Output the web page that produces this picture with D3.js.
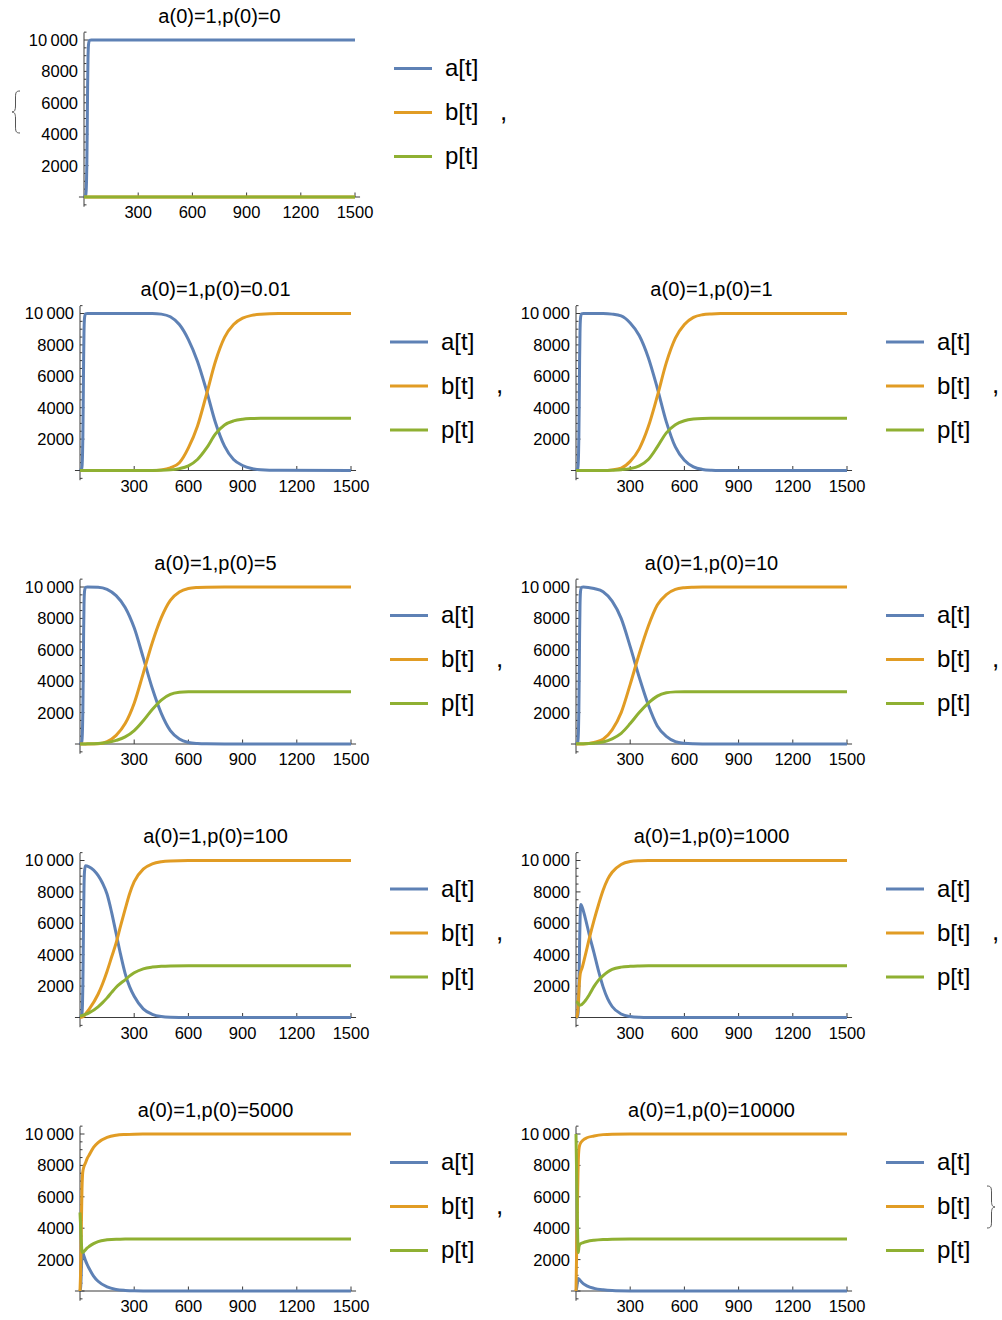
<!DOCTYPE html>
<html><head><meta charset="utf-8">
<script src="https://cdn.jsdelivr.net/npm/d3@7"></script>
<style>body{margin:0;background:#fff} svg{display:block}</style>
</head><body><svg id="c" width="1002" height="1320"></svg>
<script>
// ---------- data ----------
const titles = ["a(0)=1,p(0)=0","a(0)=1,p(0)=0.01","a(0)=1,p(0)=1","a(0)=1,p(0)=5","a(0)=1,p(0)=10",
                "a(0)=1,p(0)=100","a(0)=1,p(0)=1000","a(0)=1,p(0)=5000","a(0)=1,p(0)=10000"];
const seriesNames = ["a[t]","b[t]","p[t]"];
const xTickValues = [300,600,900,1200,1500];
const yTickValues = [2000,4000,6000,8000,10000];
const yTickLabels = ["2000","4000","6000","8000","10\u2009000"];

// p(0)=0
const t_0 = [0,10,14,16,18,20,22,25,30,40,1500];
const a_0 = [1,150,1000,2300,4500,7000,8700,9700,9980,10000,10000];
const b_0 = [0,0,0,0,0,0,0,0,0,0,0];
const p_0 = [0,0,0,0,0,0,0,0,0,0,0];
// p(0)=0.01
const t_1 = [0,10,14,16,18,20,22,25,30,40,400,450,500,550,600,650,700,750,800,850,900,950,1000,1100,1500];
const a_1 = [1,150,1000,2300,4500,7000,8700,9700,9980,10000,10000,9960,9790,9300,8340,6960,5100,3040,1550,700,320,130,50,8,0];
const b_1 = [0,0,0,0,0,0,0,0,0,0,0,40,170,490,1440,2820,4840,6960,8480,9300,9700,9880,9950,9995,10000];
const p_1 = [0,0,0,0,0,0,0,0,0,0,2,10,40,120,300,700,1420,2330,2900,3160,3270,3310,3325,3333,3333];
// p(0)=1
const t_2 = [0,10,14,16,18,20,22,25,30,40,150,200,250,300,350,400,450,500,550,600,650,700,750,800,900,1500];
const a_2 = [1,150,1000,2300,4500,7000,8700,9700,9980,10000,9995,9960,9850,9400,8600,7200,5250,3100,1500,650,230,70,20,5,0,0];
const b_2 = [0,0,0,0,0,0,0,0,0,0,5,40,150,580,1380,2780,4730,6870,8430,9300,9750,9920,9975,9995,10000,10000];
const p_2 = [1,1,1,1,1,1,1,1,1,1,5,20,50,120,300,700,1500,2400,2920,3170,3280,3320,3330,3333,3333,3333];
// p(0)=5
const t_3 = [0,10,14,16,18,20,22,25,30,40,100,150,200,250,300,350,400,450,500,550,600,650,700,800,1500];
const a_3 = [1,150,1000,2300,4500,7000,8700,9700,9980,10000,9990,9850,9450,8700,7400,5500,3550,1950,850,320,100,30,8,0,0];
const b_3 = [0,0,0,0,0,0,0,0,0,0,10,150,550,1300,2600,4500,6450,8050,9150,9680,9900,9970,9992,10000,10000];
const p_3 = [5,5,5,5,5,5,5,5,6,8,30,90,230,450,850,1480,2200,2800,3160,3290,3325,3333,3333,3333,3333];
// p(0)=10
const t_4 = [0,10,14,16,18,20,22,25,30,40,100,150,200,250,300,350,400,450,500,550,600,650,700,800,1500];
const a_4 = [1,150,1000,2300,4500,7000,8700,9700,9980,10000,9900,9700,9100,8000,6200,4250,2500,1150,480,150,45,12,3,0,0];
const b_4 = [0,0,0,0,0,0,0,0,0,2,100,300,900,2000,3800,5750,7500,8850,9520,9850,9955,9988,10000,10000,10000];
const p_4 = [10,10,10,10,10,10,10,10,11,13,50,130,330,680,1300,2000,2600,3050,3260,3320,3333,3333,3333,3333,3333];
// p(0)=100
const t_5 = [0,10,14,16,18,20,22,25,30,50,100,125,150,175,200,225,250,275,300,350,400,450,500,600,1500];
const a_5 = [1,150,950,2200,4300,6600,8200,9300,9670,9600,9050,8550,7850,6700,5350,4000,2800,1950,1350,550,200,60,20,3,0];
const b_5 = [0,20,40,55,70,85,100,130,220,520,1480,2150,2950,3850,4750,5850,6900,7900,8650,9450,9780,9920,9970,9995,10000];
const p_5 = [100,120,135,142,150,160,168,180,200,300,680,950,1250,1600,1930,2180,2400,2650,2850,3100,3210,3260,3280,3290,3290];
// p(0)=1000
const t_6 = [0,5,10,14,17,20,23,27,32,50,75,100,125,150,175,200,250,300,350,400,1500];
const a_6 = [1,12,150,900,2500,4800,6500,7200,7100,6400,5200,4100,2950,1950,1200,700,220,60,15,3,0];
const b_6 = [0,60,400,1200,1900,2400,2750,2950,3100,3900,5100,6200,7200,8100,8800,9250,9750,9930,9980,9995,10000];
const p_6 = [1000,980,920,850,800,780,780,800,830,1050,1480,1980,2380,2670,2900,3060,3210,3260,3280,3290,3290];
// p(0)=5000
const t_7 = [0,4,8,11,14,17,20,30,40,50,75,100,150,200,250,300,400,1500];
const a_7 = [1,300,1500,2400,2500,2400,2300,1950,1680,1450,950,620,260,100,38,12,1,0];
const b_7 = [0,1500,4500,6500,7400,7700,7850,8150,8450,8650,9150,9450,9780,9920,9970,9990,10000,10000];
const p_7 = [5000,4000,3000,2500,2450,2480,2500,2620,2740,2830,3020,3150,3260,3300,3305,3310,3310,3310];
// p(0)=10000
const t_8 = [0,4,8,11,13,16,22,40,60,100,150,200,300,400,1500];
const a_8 = [1,200,550,760,790,760,680,470,330,170,75,30,5,0,0];
const b_8 = [0,2800,5500,7500,8400,9000,9350,9620,9760,9870,9960,9990,10000,10000,10000];
const p_8 = [10000,7000,4200,2700,2450,2800,2990,3080,3150,3230,3280,3300,3310,3310,3310];

const panelT = [t_0,t_1,t_2,t_3,t_4,t_5,t_6,t_7,t_8];
const panelA = [a_0,a_1,a_2,a_3,a_4,a_5,a_6,a_7,a_8];
const panelB = [b_0,b_1,b_2,b_3,b_4,b_5,b_6,b_7,b_8];
const panelP = [p_0,p_1,p_2,p_3,p_4,p_5,p_6,p_7,p_8];

// ---------- styles ----------
const colors = ["#5E81B5","#E19C24","#8FB032"];
const FONT = "'Liberation Sans', Arial, Helvetica, sans-serif";
const svg = d3.select("#c");

const plotW = 271, plotH = 157, rowStep = 273.5;

function panelPos(i){
  if(i===0) return {x0:84, yTop:40};
  const row = Math.ceil(i/2), col = (i-1)%2;
  return {x0: col===0 ? 80 : 576, yTop: 40 + rowStep*row};
}

for(let i=0;i<9;i++){
  const {x0,yTop} = panelPos(i);
  const yBase = yTop + plotH;
  const x = d3.scaleLinear().domain([0,1500]).range([x0, x0+plotW]);
  const y = d3.scaleLinear().domain([0,10000]).range([yBase, yTop]);
  const g = svg.append("g");

  // title
  g.append("text").attr("x",(x0 + x0+plotW)/2).attr("y",yTop-17.5)
    .attr("text-anchor","middle").attr("font-family",FONT).attr("font-size",20).attr("fill","#000")
    .text(titles[i]);

  // axes lines
  const axisColor = "#3a3a3a";
  g.append("line").attr("x1",x(-28)).attr("x2",x(1528)).attr("y1",yBase).attr("y2",yBase)
    .attr("stroke",axisColor).attr("stroke-width",1);
  g.append("line").attr("x1",x0).attr("x2",x0).attr("y1",y(-620)).attr("y2",y(10480))
    .attr("stroke",axisColor).attr("stroke-width",1);

  // y ticks
  const yMinor = d3.range(-500,10501,500).filter(v=>v%2000!==0);
  g.selectAll(null).data(yMinor).join("line")
    .attr("x1",x0).attr("x2",x0+2.5).attr("y1",d=>y(d)).attr("y2",d=>y(d))
    .attr("stroke",axisColor).attr("stroke-width",1);
  g.selectAll(null).data([0].concat(yTickValues)).join("line")
    .attr("x1",x0).attr("x2",x0+4.5).attr("y1",d=>y(d)).attr("y2",d=>y(d))
    .attr("stroke",axisColor).attr("stroke-width",1);
  g.selectAll(null).data(yTickValues).join("text")
    .attr("x",x0-6).attr("y",d=>y(d)+5.9).attr("text-anchor","end")
    .attr("font-family",FONT).attr("font-size",16.5).attr("fill","#000")
    .text((d,k)=>yTickLabels[k]);

  // x ticks
  g.selectAll(null).data(xTickValues).join("line")
    .attr("x1",d=>x(d)).attr("x2",d=>x(d)).attr("y1",yBase).attr("y2",yBase-4.5)
    .attr("stroke",axisColor).attr("stroke-width",1);
  g.selectAll(null).data(xTickValues).join("text")
    .attr("x",d=>x(d)).attr("y",yBase+21).attr("text-anchor","middle")
    .attr("font-family",FONT).attr("font-size",16.5).attr("fill","#000")
    .text(d=>String(d));

  // curves
  const tt = panelT[i];
  const series = [panelA[i], panelB[i], panelP[i]];
  const line = d3.line().x(d=>x(d[0])).y(d=>y(d[1])).curve(d3.curveMonotoneX);
  series.forEach((vals,k)=>{
    const pts = tt.map((t,j)=>[t, vals[j]]);
    g.append("path").attr("d",line(pts)).attr("fill","none")
      .attr("stroke",colors[k]).attr("stroke-width",3)
      .attr("stroke-linejoin","round").attr("stroke-linecap","butt");
  });

  // legend
  const legOff = [28.5, 72.5, 116.5];
  seriesNames.forEach((nm,k)=>{
    const ly = yTop + legOff[k];
    g.append("line").attr("x1",x0+310).attr("x2",x0+348).attr("y1",ly).attr("y2",ly)
      .attr("stroke",colors[k]).attr("stroke-width",2.8);
    g.append("text").attr("x",x0+361).attr("y",ly+7.5)
      .attr("font-family",FONT).attr("font-size",24).attr("fill","#000").text(nm);
  });
  if(i<8){
    g.append("text").attr("x",x0+416).attr("y",yTop+legOff[1]+7)
      .attr("font-family",FONT).attr("font-size",26).attr("fill","#000").text(",");
  }
}

// list braces
svg.append("path")
  .attr("d","M20,91 C15.5,91 15.5,93 15.5,99 L15.5,106 C15.5,110 14.5,112 12,112 C14.5,112 15.5,114 15.5,118 L15.5,125 C15.5,131 15.5,133 20,133")
  .attr("fill","none").attr("stroke","#555").attr("stroke-width",1);
svg.append("path")
  .attr("d","M987,1186 C991.5,1186 991.5,1188 991.5,1194 L991.5,1201 C991.5,1205 992.5,1207 995,1207 C992.5,1207 991.5,1209 991.5,1213 L991.5,1220 C991.5,1226 991.5,1228 987,1228")
  .attr("fill","none").attr("stroke","#555").attr("stroke-width",1);
</script></body></html>
